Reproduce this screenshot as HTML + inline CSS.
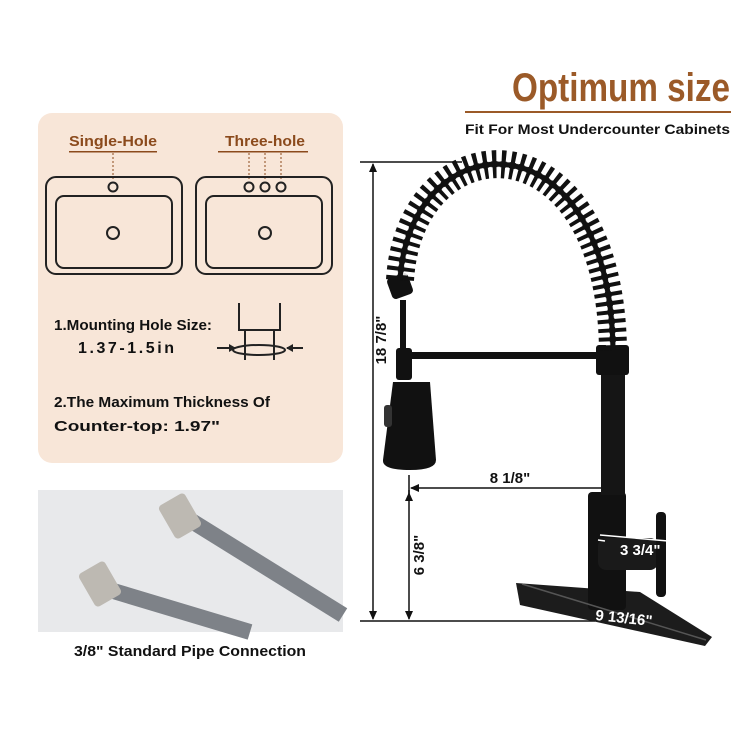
<!DOCTYPE html>
<html><head><meta charset="utf-8"><style>
html,body{margin:0;padding:0;background:#fff}
svg{display:block}
text{font-family:"Liberation Sans",sans-serif;font-weight:bold}
</style></head><body>
<svg width="755" height="755" viewBox="0 0 755 755" xmlns="http://www.w3.org/2000/svg">
<rect width="755" height="755" fill="#fff"/>
<!-- title -->
<text x="730" y="101" text-anchor="end" font-size="40" fill="#9b5a28" textLength="218" lengthAdjust="spacingAndGlyphs">Optimum size</text>
<rect x="465" y="111" width="266" height="2" fill="#9b5a28"/>
<text x="730" y="134" text-anchor="end" font-size="14" fill="#111" textLength="265" lengthAdjust="spacingAndGlyphs">Fit For Most Undercounter Cabinets</text>

<!-- left panel -->
<rect x="38" y="113" width="305" height="350" rx="14" fill="#f8e6d8"/>
<text x="113" y="146" text-anchor="middle" font-size="15" fill="#8b4a1c" textLength="88" lengthAdjust="spacingAndGlyphs">Single-Hole</text>
<rect x="69" y="151" width="88" height="1.5" fill="#8b4a1c"/>
<text x="265" y="146" text-anchor="middle" font-size="15" fill="#8b4a1c" textLength="80" lengthAdjust="spacingAndGlyphs">Three-hole</text>
<rect x="218" y="151" width="90" height="1.5" fill="#8b4a1c"/>
<g stroke="#8b4a1c" stroke-dasharray="2,2" stroke-width="1">
<line x1="113" y1="153" x2="113" y2="180"/><line x1="249" y1="153" x2="249" y2="180"/><line x1="265" y1="153" x2="265" y2="180"/><line x1="281" y1="153" x2="281" y2="180"/></g>
<g fill="none" stroke="#222" stroke-width="2">
<rect x="46" y="177" width="136" height="97" rx="10"/>
<rect x="56" y="196" width="116" height="72" rx="8"/>
<circle cx="113" cy="187" r="4.5"/><circle cx="113" cy="233" r="6"/>
<rect x="196" y="177" width="136" height="97" rx="10"/>
<rect x="206" y="196" width="116" height="72" rx="8"/>
<circle cx="249" cy="187" r="4.5"/><circle cx="265" cy="187" r="4.5"/><circle cx="281" cy="187" r="4.5"/><circle cx="265" cy="233" r="6"/>
</g>
<text x="54" y="330" font-size="15" fill="#111" textLength="158" lengthAdjust="spacingAndGlyphs">1.Mounting Hole Size:</text>
<text x="78" y="353" font-size="16" fill="#111" textLength="96">1.37-1.5in</text>
<g fill="none" stroke="#222" stroke-width="2">
<path d="M239 303 V330 H280 V303"/><path d="M245 330 V360 M274 330 V360"/>
<ellipse cx="259" cy="350" rx="26" ry="5"/>
<line x1="217" y1="348" x2="235" y2="348"/><line x1="287" y1="348" x2="303" y2="348"/></g>
<path d="M236 348 l-7 -4 v8z M286 348 l7 -4 v8z" fill="#222"/>
<text x="54" y="407" font-size="15" fill="#111" textLength="216" lengthAdjust="spacingAndGlyphs">2.The Maximum Thickness Of</text>
<text x="54" y="431" font-size="15" fill="#111" textLength="166" lengthAdjust="spacingAndGlyphs">Counter-top: 1.97"</text>

<!-- pipe photo -->
<rect x="38" y="490" width="305" height="142" fill="#e8e9eb"/>
<path d="M190 520 L343 615" stroke="#7e8288" stroke-width="16"/>
<path d="M110 590 L250 632" stroke="#7e8288" stroke-width="16"/>
<rect x="165" y="497" width="30" height="38" rx="4" fill="#bdb9b2" transform="rotate(-30 180 516)"/>
<rect x="85" y="565" width="30" height="38" rx="4" fill="#bdb9b2" transform="rotate(-30 100 584)"/>
<text x="190" y="656" text-anchor="middle" font-size="15" fill="#111" textLength="232" lengthAdjust="spacingAndGlyphs">3/8" Standard Pipe Connection</text>

<!-- dimension lines -->
<g stroke="#111" stroke-width="1.5" fill="none">
<line x1="360" y1="162" x2="462" y2="162"/>
<line x1="360" y1="621" x2="595" y2="621"/>
<line x1="373" y1="164" x2="373" y2="619"/>
<line x1="409" y1="490" x2="409" y2="619"/>
<line x1="409" y1="475" x2="409" y2="498"/>
<line x1="411" y1="488" x2="603" y2="488"/>
<line x1="605" y1="476" x2="605" y2="494"/>
</g>
<path d="M373 163 l-4 9 h8z M373 620 l-4 -9 h8z M409 492 l-4 9 h8z M409 620 l-4 -9 h8z M410 488 l9 -4 v8z" fill="#111"/>
<text transform="translate(386 340) rotate(-90)" text-anchor="middle" font-size="15" fill="#111">18 7/8"</text>
<text transform="translate(424 555) rotate(-90)" text-anchor="middle" font-size="15" fill="#111">6 3/8"</text>
<text x="510" y="483" text-anchor="middle" font-size="15" fill="#111">8 1/8"</text>

<!-- faucet -->
<g fill="#111">
<path d="M516 583 L640 592 L712 637 L705 646 L520 605 Z" fill="#1c1c1c"/>
<rect x="588" y="492" width="38" height="118" rx="4"/>
<rect x="598" y="538" width="60" height="32" rx="8" fill="#1a1a1a"/>
<rect x="656" y="512" width="10" height="85" rx="4"/>
<rect x="601" y="370" width="24" height="125" fill="#151515"/>
<rect x="596" y="345" width="33" height="30" rx="3"/>
<rect x="405" y="352" width="195" height="7" rx="3"/>
<rect x="396" y="348" width="16" height="32" rx="3"/>
<rect x="400" y="300" width="6" height="50"/>
<rect x="389" y="275" width="22" height="22" rx="4" transform="rotate(-20 400 286)"/>
<path d="M393 382 H430 L436 460 Q436 470 410 470 Q382 470 383 460 Z"/>
<rect x="384" y="405" width="8" height="22" rx="3" fill="#333"/>
</g>
<path d="M400 280 C410 120 610 110 613 350" fill="none" stroke="#111" stroke-width="6"/>
<path d="M400 280 C410 120 610 110 613 350" fill="none" stroke="#111" stroke-width="28" stroke-dasharray="4,5"/>
<path d="M400 280 C410 120 610 110 613 350" fill="none" stroke="#fff" stroke-width="14" stroke-dasharray="3,6" stroke-dashoffset="4" stroke-opacity="0.85"/>
<path d="M400 280 C410 120 610 110 613 350" fill="none" stroke="#111" stroke-width="5"/>
<g stroke="#fff" stroke-width="1.5">
<line x1="600" y1="535" x2="668" y2="541"/>
<line x1="598" y1="540" x2="605" y2="541"/>
<line x1="522" y1="584" x2="706" y2="640" stroke="#555"/>
</g>
<text x="620" y="555" font-size="15" fill="#fff">3 3/4"</text>
<text x="595" y="620" font-size="15" fill="#fff" transform="rotate(6 595 620)">9 13/16"</text>
</svg>
</body></html>
